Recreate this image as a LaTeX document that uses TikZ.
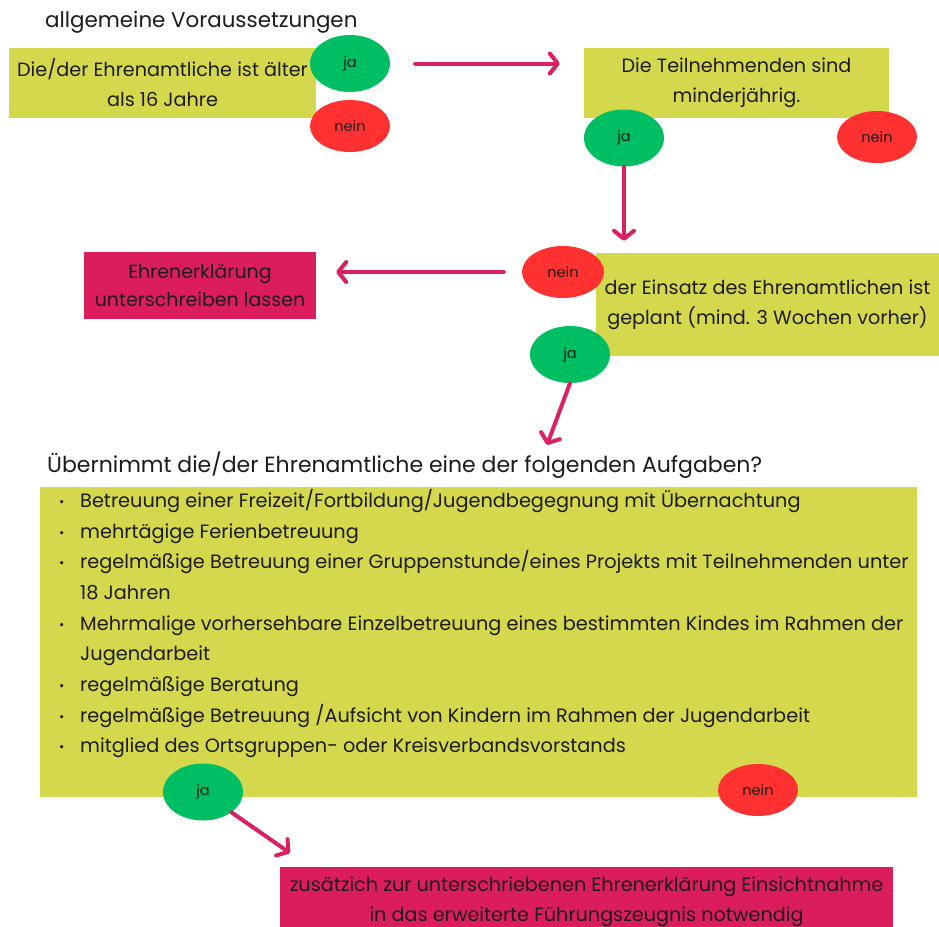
\documentclass[tikz,border=0pt]{standalone}
\usepackage{fontspec}
\setmainfont{Poppins}
\usetikzlibrary{shapes.geometric,arrows.meta}
\definecolor{lime}{HTML}{D4D84C}
\definecolor{okgreen}{HTML}{00BF63}
\definecolor{nored}{HTML}{FF3131}
\definecolor{crim}{HTML}{DB1D5E}
\definecolor{arrowc}{HTML}{D9225F}
\definecolor{ink}{HTML}{1C1C1C}
\newcommand{\bul}{\makebox[21pt][l]{\raisebox{1pt}{\fontsize{13}{13}\selectfont\textbullet}}}
\newcommand{\nobul}{\makebox[21pt][l]{}}
\tikzset{
  limebox/.style={fill=lime, draw=none, inner sep=0, align=center, text=ink, font=\fontsize{19.2}{30}\selectfont},
  crimbox/.style={fill=crim, draw=none, inner sep=0, align=center, text=ink, font=\fontsize{19}{28.5}\selectfont},
  jaball/.style={ellipse, fill=okgreen, draw=none, inner sep=0, minimum width=80pt, minimum height=57pt, text=ink, font=\fontsize{14.5}{16}\selectfont},
  neinball/.style={ellipse, fill=nored, draw=none, inner sep=0, minimum width=80pt, minimum height=52pt, text=ink, font=\fontsize{14.5}{16}\selectfont},
  flow/.style={draw=arrowc, line width=4pt, line cap=round, -{Straight Barb[round,length=8pt,width=20pt]}},
  headline/.style={anchor=west, inner sep=0, text=ink}
}
\begin{document}
\begin{tikzpicture}[x=1pt,y=-1pt]
\useasboundingbox (0,0) rectangle (939,926);
\fill[white] (0,0) rectangle (939,926);
% headings
\node[headline, font=\fontsize{21.4}{24}\selectfont] (title) at (45,22) {allgemeine Voraussetzungen};
\node[headline, font=\fontsize{22}{24}\selectfont] (question) at (47,465) {Übernimmt die/der Ehrenamtliche eine der folgenden Aufgaben?};
% boxes
\node[limebox, minimum width=307pt, minimum height=70pt] (age) at (162.5,83)
  {\makebox[0pt][c]{Die/der Ehrenamtliche ist älter}\\als 16 Jahre};
\node[limebox, minimum width=305pt, minimum height=70pt] (minor) at (736.5,83)
  {Die Teilnehmenden sind\\minderjährig.};
\node[limebox, minimum width=343pt, minimum height=103pt] (plan) at (767.5,304.5)
  {\raisebox{0pt}{der Einsatz des Ehrenamtlichen ist}\\geplant (mind. 3 Wochen vorher)};
\node[crimbox, minimum width=232pt, minimum height=67pt] (ehren) at (200,285.5)
  {Ehrenerklärung\\unterschreiben lassen};
\node[fill=lime, draw=none, inner sep=0, minimum width=877pt, minimum height=310pt] (tasks) at (478.5,642) {};
\node[anchor=north west, inner sep=0, align=left, text=ink, font=\fontsize{19.3}{30.7}\selectfont] (list) at (59,489)
  {\bul Betreuung einer Freizeit/Fortbildung/Jugendbegegnung mit Übernachtung\\
   \bul mehrtägige Ferienbetreuung\\
   \bul regelmäßige Betreuung einer Gruppenstunde/eines Projekts mit Teilnehmenden unter\\
   \nobul 18 Jahren\\
   \bul Mehrmalige vorhersehbare Einzelbetreuung eines bestimmten Kindes im Rahmen der\\
   \nobul Jugendarbeit\\
   \bul regelmäßige Beratung\\
   \bul regelmäßige Betreuung /Aufsicht von Kindern im Rahmen der Jugendarbeit\\
   \bul mitglied des Ortsgruppen- oder Kreisverbandsvorstands};
\node[crimbox, font=\fontsize{19.2}{30}\selectfont, minimum width=613pt, minimum height=70pt, anchor=north] (zeugnis) at (586.5,867)
  {zusätzich zur unterschriebenen Ehrenerklärung Einsichtnahme\\in das erweiterte Führungszeugnis notwendig};
% answer balls
\node[jaball] (ja1) at (350,63.5) {ja};
\node[neinball] (nein1) at (350,126) {nein};
\node[jaball] (ja2) at (624,138) {ja};
\node[neinball] (nein2) at (877,137) {nein};
\node[neinball, minimum width=82pt] (nein3) at (563,272) {nein};
\node[jaball] (ja3) at (570,354.5) {ja};
\node[jaball] (ja4) at (203,792) {ja};
\node[neinball] (nein4) at (758,790) {nein};
% connectors
\coordinate (qin) at (547,445);
\coordinate (zin) at (290,853);
\draw[flow, shorten <=25pt, shorten >=24pt] (ja1.east |- ja1.center) -- (minor.west |- ja1.center);
\draw[flow, shorten >=12pt] (ja2.south) -- (ja2.south |- plan.north);
\draw[flow, shorten <=18pt, shorten >=20pt] (nein3.west) -- (ehren.east |- nein3.west);
\draw[flow] (ja3.south) -- (qin);
\draw[flow] (ja4.south east) -- (zin);
\end{tikzpicture}
\end{document}
